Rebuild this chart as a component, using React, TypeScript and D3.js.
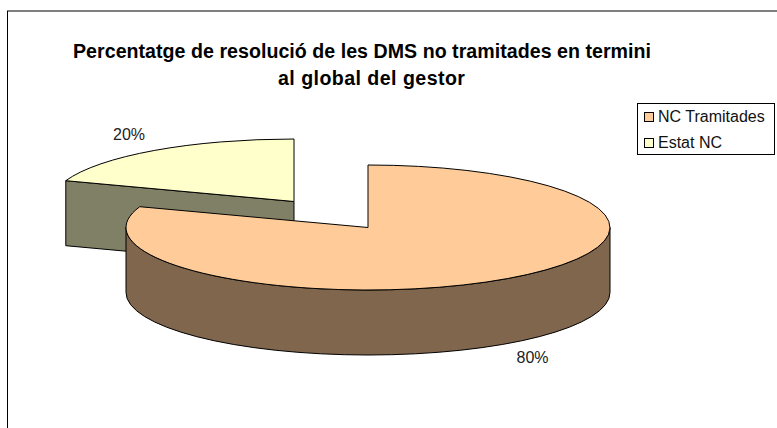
import * as d3 from 'd3'
import React from 'react'

const categories = ['NC Tramitades', 'Estat NC']
const values = [80.4, 19.6]
const labels = ['80%', '20%']
const titleLines = ['Percentatge de resolució de les DMS no tramitades en termini', 'al global del gestor']
const titleCenters = [362, 371.5]
const titleWidths = [578, 187]
const topColors = ['#FFCC99', '#FFFFCC']
const sideColors = ['#80664D', '#808066']

const W = 777
const H = 428
const rx = 242
const ry = 62.5
const depth = 65
// centre of each slice (the small one is pulled out of the pie)
const centers = [
  { x: 368, y: 227.5 },
  { x: 294, y: 201.5 },
]
const labelPos = [
  { x: 532.5, y: 363 },
  { x: 129, y: 140 },
]

const font = '"Liberation Sans", Arial, sans-serif'

export default function App() {
  const pie = d3.pie<number>().sort(null).startAngle(0).endAngle(2 * Math.PI)
  const slices = pie(values)
  const arc = d3.arc<d3.PieArcDatum<number>>().innerRadius(0).outerRadius(rx)

  const px = (i: number, a: number) => centers[i].x + rx * Math.sin(a)
  const py = (i: number, a: number) => centers[i].y - ry * Math.cos(a)

  // outer wall of the big slice, the front half of the ellipse
  const wall = (i: number) => {
    const a0 = Math.max(slices[i].startAngle, Math.PI / 2)
    const a1 = Math.min(slices[i].endAngle, (3 * Math.PI) / 2)
    return (
      `M${px(i, a0)},${py(i, a0)}A${rx},${ry} 0 0 1 ${px(i, a1)},${py(i, a1)}` +
      `L${px(i, a1)},${py(i, a1) + depth}A${rx},${ry} 0 0 0 ${px(i, a0)},${py(i, a0) + depth}Z`
    )
  }
  // cut face of the small slice
  const cut = (i: number) => {
    const a = slices[i].startAngle
    const c = centers[i]
    return (
      `M${c.x},${c.y}L${px(i, a)},${py(i, a)}L${px(i, a)},${py(i, a) + depth}` +
      `L${c.x},${c.y + depth}Z`
    )
  }

  return (
    <svg
      width={W}
      height={H}
      style={{ position: 'absolute', left: 0, top: 0, display: 'block' }}
      fontFamily={font}
    >
      <rect width={W} height={H} fill="#fff" />
      <rect x={7.5} y={11} width={W + 20} height={H + 20} fill="#fff" stroke="#000" strokeWidth={1} />

      {titleLines.map((t, i) => (
        <text
          key={t}
          x={titleCenters[i]}
          y={58 + i * 27}
          textAnchor="middle"
          fontSize={19.6}
          fontWeight="bold"
          fill="#000"
          textLength={titleWidths[i]}
          lengthAdjust="spacing"
        >
          {t}
        </text>
      ))}

      {/* small slice goes first, the big one overlaps it */}
      <path d={cut(1)} fill={sideColors[1]} stroke="#000" strokeWidth={1} />
      <g transform={`translate(${centers[1].x},${centers[1].y}) scale(1,${ry / rx})`}>
        <path d={arc(slices[1]) ?? ''} fill={topColors[1]} stroke="#000" strokeWidth={1} vectorEffect="non-scaling-stroke" />
      </g>

      <path d={wall(0)} fill={sideColors[0]} stroke="#000" strokeWidth={1} />
      <g transform={`translate(${centers[0].x},${centers[0].y}) scale(1,${ry / rx})`}>
        <path d={arc(slices[0]) ?? ''} fill={topColors[0]} stroke="#000" strokeWidth={1} vectorEffect="non-scaling-stroke" />
      </g>

      {labels.map((t, i) => (
        <text key={t} x={labelPos[i].x} y={labelPos[i].y} textAnchor="middle" fontSize={16} fill="#222">
          {t}
        </text>
      ))}

      <rect x={637.5} y={103.5} width={137} height={51} fill="#fff" stroke="#000" strokeWidth={1} />
      {categories.map((c, i) => (
        <g key={c}>
          <rect x={644.5} y={112.5 + i * 26} width={9} height={9} fill={topColors[i]} stroke="#000" strokeWidth={1} />
          <text x={658} y={122 + i * 26} fontSize={16} fill="#111">
            {c}
          </text>
        </g>
      ))}
    </svg>
  )
}
